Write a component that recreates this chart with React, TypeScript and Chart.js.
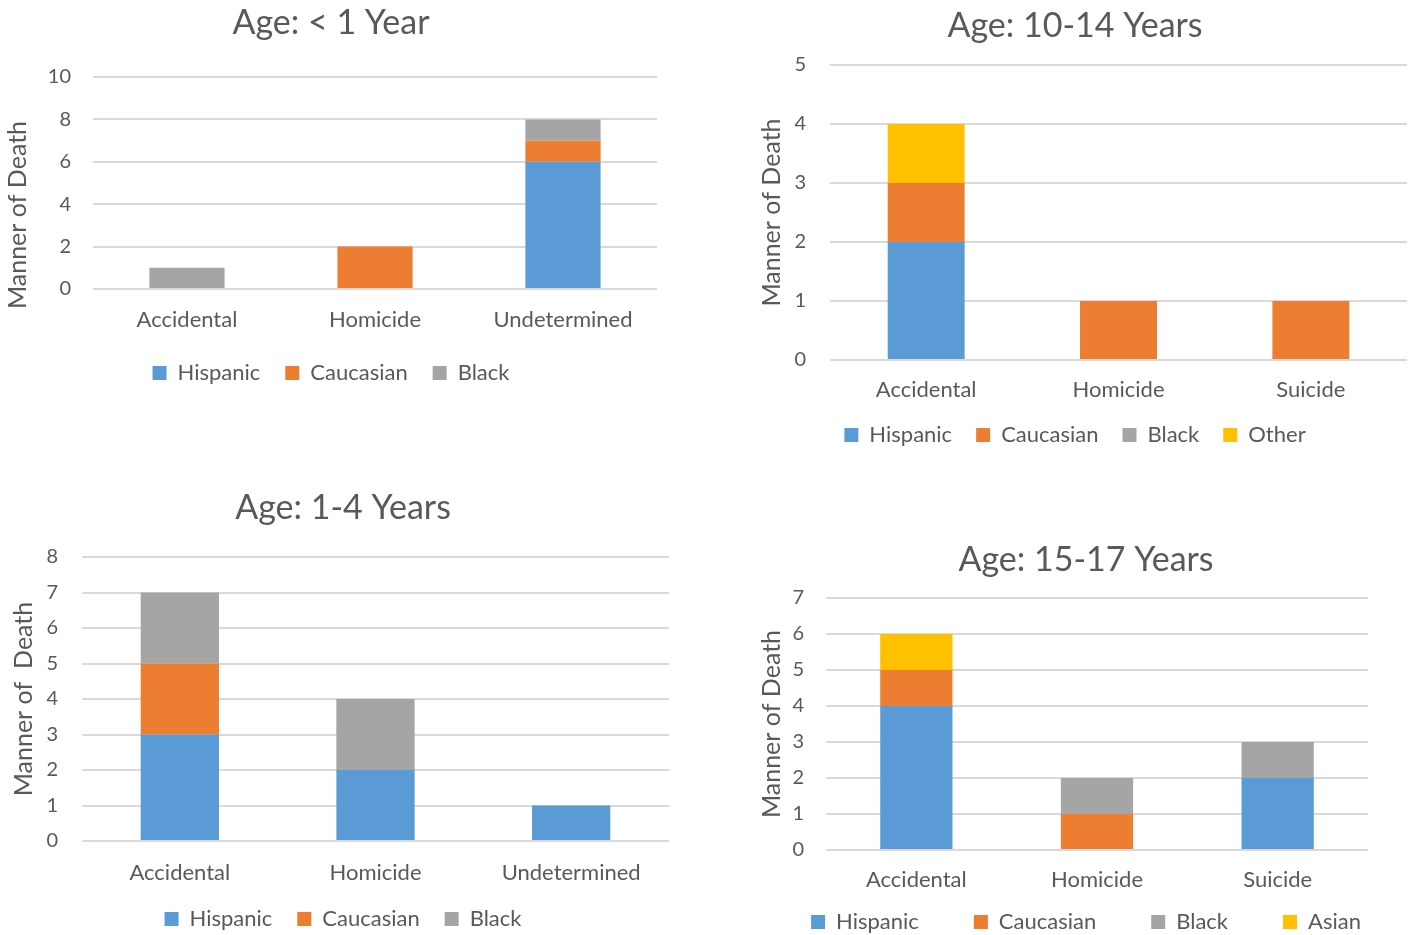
import React, { useEffect, useRef } from "react";
import { Chart, registerables } from "chart.js";

Chart.register(...registerables);

// ---------- data ----------
const infantTitle = "Age: < 1 Year";
const infantCategories = ["Accidental", "Homicide", "Undetermined"];
const infantHispanic = [0, 0, 6];
const infantCaucasian = [0, 2, 1];
const infantBlack = [1, 0, 1];
const infantTicks = { max: 10, step: 2 };

const teenTitle = "Age: 10-14 Years";
const teenCategories = ["Accidental", "Homicide", "Suicide"];
const teenHispanic = [2, 0, 0];
const teenCaucasian = [1, 1, 1];
const teenBlack = [0, 0, 0];
const teenOther = [1, 0, 0];
const teenTicks = { max: 5, step: 1 };

const toddlerTitle = "Age: 1-4 Years";
const toddlerCategories = ["Accidental", "Homicide", "Undetermined"];
const toddlerHispanic = [3, 2, 1];
const toddlerCaucasian = [2, 0, 0];
const toddlerBlack = [2, 2, 0];
const toddlerTicks = { max: 8, step: 1 };

const olderTitle = "Age: 15-17 Years";
const olderCategories = ["Accidental", "Homicide", "Suicide"];
const olderHispanic = [4, 0, 2];
const olderCaucasian = [1, 1, 0];
const olderBlack = [0, 1, 1];
const olderAsian = [1, 0, 0];
const olderTicks = { max: 7, step: 1 };

const yAxisTitle = "Manner of Death";
const yAxisTitleToddler = "Manner of  Death";

// ---------- styles ----------
const FONT = "Lato, 'Noto Sans', sans-serif";
const TEXT = "#595959";
const GRID = "#d9d9d9";
const C_HISP = "#5B9BD5";
const C_CAUC = "#ED7D31";
const C_BLACK = "#A5A5A5";
const C_YELLOW = "#FFC000";

const TITLE_SIZE = 34;
const TICK_SIZE = 20;
const CAT_SIZE = 22;
const LEGEND_SIZE = 22;
const YTITLE_SIZE = 25;
const BOX = 14;

type Layout = {
  left: number; top: number; width: number; contentRight: number;
  plotLeft: number; plotRight: number; plotTop: number; plotBottom: number;
  centerX: number; titleY: number; yTitleX: number; yTitleDy: number;
  tickRight: number; catY: number; legendY: number; legendGap: number;
};

type Series = { label: string; data: number[]; color: string };

type Panel = {
  title: string; categories: string[]; series: Series[];
  ticks: { max: number; step: number }; yTitle: string; layout: Layout;
};

const panels: Panel[] = [
  {
    title: infantTitle, categories: infantCategories, ticks: infantTicks, yTitle: yAxisTitle,
    series: [
      { label: "Hispanic", data: infantHispanic, color: C_HISP },
      { label: "Caucasian", data: infantCaucasian, color: C_CAUC },
      { label: "Black", data: infantBlack, color: C_BLACK },
    ],
    layout: { left: 0, top: 0, width: 680, contentRight: 657, plotLeft: 93, plotRight: 657, plotTop: 77, plotBottom: 289,
      centerX: 331, titleY: 23, yTitleX: 18, yTitleDy: 32, tickRight: 71, catY: 320, legendY: 373, legendGap: 25 },
  },
  {
    title: teenTitle, categories: teenCategories, ticks: teenTicks, yTitle: yAxisTitle,
    series: [
      { label: "Hispanic", data: teenHispanic, color: C_HISP },
      { label: "Caucasian", data: teenCaucasian, color: C_CAUC },
      { label: "Black", data: teenBlack, color: C_BLACK },
      { label: "Other", data: teenOther, color: C_YELLOW },
    ],
    layout: { left: 740, top: 0, width: 674, contentRight: 1407, plotLeft: 830, plotRight: 1407, plotTop: 65, plotBottom: 360,
      centerX: 1075, titleY: 26, yTitleX: 772, yTitleDy: 0, tickRight: 806, catY: 390, legendY: 435, legendGap: 24 },
  },
  {
    title: toddlerTitle, categories: toddlerCategories, ticks: toddlerTicks, yTitle: yAxisTitleToddler,
    series: [
      { label: "Hispanic", data: toddlerHispanic, color: C_HISP },
      { label: "Caucasian", data: toddlerCaucasian, color: C_CAUC },
      { label: "Black", data: toddlerBlack, color: C_BLACK },
    ],
    layout: { left: 0, top: 470, width: 690, contentRight: 669, plotLeft: 82, plotRight: 669, plotTop: 557, plotBottom: 841,
      centerX: 343, titleY: 508, yTitleX: 24, yTitleDy: 0, tickRight: 58, catY: 873, legendY: 919, legendGap: 25 },
  },
  {
    title: olderTitle, categories: olderCategories, ticks: olderTicks, yTitle: yAxisTitle,
    series: [
      { label: "Hispanic", data: olderHispanic, color: C_HISP },
      { label: "Caucasian", data: olderCaucasian, color: C_CAUC },
      { label: "Black", data: olderBlack, color: C_BLACK },
      { label: "Asian", data: olderAsian, color: C_YELLOW },
    ],
    layout: { left: 740, top: 520, width: 700, contentRight: 1430, plotLeft: 826, plotRight: 1368, plotTop: 598, plotBottom: 850,
      centerX: 1086, titleY: 560, yTitleX: 772, yTitleDy: 0, tickRight: 804, catY: 880, legendY: 922, legendGap: 55 },
  },
];

function geometry(l: Layout) {
  const contentLeft = 2 * l.centerX - l.contentRight;
  const legendTop = l.legendY - l.legendGap - LEGEND_SIZE / 2;
  const legendBottom = legendTop + LEGEND_SIZE + l.legendGap + 10;
  const height = Math.ceil(legendBottom - l.top);
  const titlePadTop = l.titleY - l.top - 0.6 * TITLE_SIZE;
  return {
    height,
    padLeft: contentLeft - l.left,
    padRight: l.left + l.width - l.contentRight,
    padBottom: height - (legendBottom - l.top),
    yWidth: l.plotLeft - contentLeft,
    y2Width: l.contentRight - l.plotRight,
    titlePadTop,
    titlePadBottom: l.plotTop - l.top - titlePadTop - 1.2 * TITLE_SIZE,
    xHeight: legendTop - l.plotBottom,
    xPad: l.catY - l.plotBottom - 0.6 * CAT_SIZE,
    yPad: l.plotLeft - l.tickRight,
    yTitleDx: l.yTitleX - (contentLeft + 0.6 * YTITLE_SIZE),
  };
}

// shifts the y-axis title and lets the category labels draw outside the (narrow) x-axis box
const axisTweaks = {
  id: "axisTweaks",
  beforeDraw(chart: any, _args: any, opts: any) {
    const s: any = chart.scales.y;
    if (s && !s.__shifted) {
      const orig = s.drawTitle.bind(s);
      s.drawTitle = function () {
        const ctx = chart.ctx;
        ctx.save();
        ctx.translate(opts.dx || 0, opts.dy || 0);
        orig();
        ctx.restore();
      };
      s.__shifted = true;
    }
    const x: any = chart.scales.x;
    if (x && !x.__noclip) {
      x._computeLabelArea = () => undefined;
      x.__noclip = true;
    }
  },
};

function ChartPanel({ panel }: { panel: Panel }) {
  const ref = useRef<HTMLCanvasElement | null>(null);
  const l = panel.layout;
  const g = geometry(l);

  useEffect(() => {
    if (!ref.current) return;
    const scales: any = {
      x: {
        stacked: true,
        grid: { display: false, drawTicks: false },
        border: { display: false },
        ticks: { color: TEXT, font: { family: FONT, size: CAT_SIZE }, padding: g.xPad, maxRotation: 0, autoSkip: false },
        afterFit: (s: any) => { s.height = g.xHeight; },
      },
      y: {
        stacked: true,
        min: 0,
        max: panel.ticks.max,
        grid: { color: GRID, lineWidth: 2, drawTicks: false },
        border: { display: false },
        ticks: { stepSize: panel.ticks.step, color: TEXT, font: { family: FONT, size: TICK_SIZE }, padding: g.yPad },
        title: { display: true, text: panel.yTitle, color: TEXT, font: { family: FONT, size: YTITLE_SIZE, weight: "normal" }, padding: 0 },
        afterFit: (s: any) => { s.width = g.yWidth; },
      },
    };
    if (g.y2Width > 0) {
      scales.y2 = {
        type: "linear",
        position: "right",
        display: true,
        grid: { display: false, drawTicks: false },
        border: { display: false },
        ticks: { display: false },
        afterFit: (s: any) => { s.width = g.y2Width; },
      };
    }
    const chart = new Chart(ref.current, {
      type: "bar",
      data: {
        labels: panel.categories,
        datasets: panel.series.map((s) => ({
          label: s.label,
          data: s.data,
          backgroundColor: s.color,
          borderWidth: 0,
          barPercentage: 0.4,
          categoryPercentage: 1,
        })),
      },
      options: {
        animation: false,
        responsive: false,
        maintainAspectRatio: false,
        events: [],
        layout: { padding: { left: g.padLeft, right: g.padRight, top: 0, bottom: g.padBottom } },
        scales,
        plugins: {
          title: {
            display: true,
            text: panel.title,
            color: TEXT,
            font: { family: FONT, size: TITLE_SIZE, weight: "normal" },
            padding: { top: g.titlePadTop, bottom: g.titlePadBottom },
          },
          legend: {
            display: true,
            position: "bottom",
            labels: {
              color: TEXT,
              font: { family: FONT, size: LEGEND_SIZE },
              boxWidth: BOX,
              boxHeight: BOX,
              padding: l.legendGap,
            },
          },
          tooltip: { enabled: false },
          axisTweaks: { dx: g.yTitleDx, dy: l.yTitleDy },
        } as any,
      },
      plugins: [axisTweaks as any],
    });
    return () => chart.destroy();
  }, []);

  return (
    <canvas
      ref={ref}
      width={l.width}
      height={g.height}
      style={{ position: "absolute", left: l.left, top: l.top, width: l.width, height: g.height }}
    />
  );
}

export default function App() {
  return (
    <div style={{ position: "fixed", left: 0, top: 0, width: 1414, height: 935, overflow: "hidden", background: "#fff" }}>
      {panels.map((p, i) => (
        <ChartPanel key={i} panel={p} />
      ))}
    </div>
  );
}
